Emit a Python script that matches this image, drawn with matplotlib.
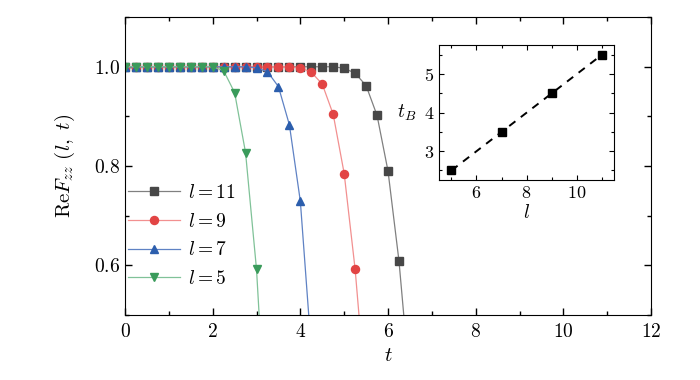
import numpy as np
import matplotlib
matplotlib.use('Agg')
import matplotlib.pyplot as plt
from matplotlib.ticker import MultipleLocator, FuncFormatter

plt.rcParams['font.family'] = 'serif'
plt.rcParams['font.serif'] = ['cmr10', 'DejaVu Serif']
plt.rcParams['mathtext.fontset'] = 'cm'
plt.rcParams['axes.formatter.use_mathtext'] = True

# main panel data: Re F_zz(l, t)
t5 = [0, 0.25, 0.5, 0.75, 1.0, 1.25, 1.5, 1.75, 2.0, 2.25, 2.5, 2.75, 3.0, 3.25]
f5 = [1.0, 1.0, 1.0, 1.0, 1.0, 1.0, 1.0, 1.0, 1.0, 0.992, 0.948, 0.827, 0.592, 0.21]

t7 = [0, 0.25, 0.5, 0.75, 1.0, 1.25, 1.5, 1.75, 2.0, 2.25, 2.5, 2.75, 3.0, 3.25,
      3.5, 3.75, 4.0, 4.25]
f7 = [1.0, 1.0, 1.0, 1.0, 1.0, 1.0, 1.0, 1.0, 1.0, 1.0, 1.0, 1.0, 0.998, 0.99,
      0.96, 0.883, 0.729, 0.43]

t9 = [0, 0.25, 0.5, 0.75, 1.0, 1.25, 1.5, 1.75, 2.0, 2.25, 2.5, 2.75, 3.0, 3.25,
      3.5, 3.75, 4.0, 4.25, 4.5, 4.75, 5.0, 5.25, 5.5]
f9 = [1.0, 1.0, 1.0, 1.0, 1.0, 1.0, 1.0, 1.0, 1.0, 1.0, 1.0, 1.0, 1.0, 1.0,
      1.0, 1.0, 0.998, 0.989, 0.965, 0.904, 0.785, 0.592, 0.33]

t11 = [0, 0.25, 0.5, 0.75, 1.0, 1.25, 1.5, 1.75, 2.0, 2.25, 2.5, 2.75, 3.0, 3.25,
       3.5, 3.75, 4.0, 4.25, 4.5, 4.75, 5.0, 5.25, 5.5, 5.75, 6.0, 6.25, 6.5]
f11 = [1.0, 1.0, 1.0, 1.0, 1.0, 1.0, 1.0, 1.0, 1.0, 1.0, 1.0, 1.0, 1.0, 1.0,
       1.0, 1.0, 1.0, 1.0, 1.0, 1.0, 0.997, 0.987, 0.962, 0.902, 0.79, 0.609, 0.36]

# inset data: t_B vs l
l_vals = [5, 7, 9, 11]
t_B = [2.5, 3.5, 4.5, 5.5]

mfmt = FuncFormatter(lambda v, p: r'$%g$' % v)
mfmt1 = FuncFormatter(lambda v, p: r'$%.1f$' % v)

fig = plt.figure(figsize=(7, 3.8), dpi=100)
ax = fig.add_axes([0.1786, 0.171, 0.7514, 0.784])

series = [
    (t11, f11, 's', '#474747', '#808080', r'$l=11$', 5.2),
    (t9, f9, 'o', '#e24444', '#f29090', r'$l=9$', 5.8),
    (t7, f7, '^', '#2c5ead', '#5f82c4', r'$l=7$', 6.3),
    (t5, f5, 'v', '#3a9b5b', '#80c298', r'$l=5$', 6.3),
]
for tt, ff, mk, mc, lc, lab, ms in series:
    ax.plot(tt, ff, color=lc, lw=0.9, marker=mk, ms=ms, mfc=mc, mec=mc,
            label=lab)

ax.set_xlim(0, 12)
ax.set_ylim(0.5, 1.1)
ax.xaxis.set_major_locator(MultipleLocator(2))
ax.xaxis.set_minor_locator(MultipleLocator(1))
ax.yaxis.set_minor_locator(MultipleLocator(0.1))
ax.set_yticks([0.6, 0.8, 1.0])
ax.xaxis.set_major_formatter(mfmt)
ax.yaxis.set_major_formatter(mfmt1)
ax.tick_params(which='both', direction='in', top=True, right=True, labelsize=14)
ax.tick_params(which='major', length=5, width=1)
ax.tick_params(which='minor', length=3, width=1)
ax.tick_params(axis='x', pad=6)
ax.set_xlabel(r'$t$', fontsize=15, labelpad=4)
ax.set_ylabel(r'$\mathrm{Re}F_{zz}\ (l,\ t)$', fontsize=15, labelpad=12)

ax.legend(loc='upper left', bbox_to_anchor=(0.005, 0.44), frameon=False,
          fontsize=14, handlelength=2.7, handletextpad=0.4, labelspacing=0.55,
          borderaxespad=0, borderpad=0)

# inset
axi = fig.add_axes([0.627, 0.526, 0.2506, 0.355])
axi.plot(l_vals, t_B, color='black', ls=(0, (4, 3.5)), lw=1.4, marker='s',
         ms=6, mfc='black', mec='black')
axi.set_xlim(4.5, 11.5)
axi.set_ylim(2.25, 5.75)
axi.xaxis.set_major_locator(MultipleLocator(2))
axi.xaxis.set_minor_locator(MultipleLocator(1))
axi.yaxis.set_major_locator(MultipleLocator(1))
axi.yaxis.set_minor_locator(MultipleLocator(0.5))
axi.xaxis.set_major_formatter(mfmt)
axi.yaxis.set_major_formatter(mfmt)
axi.tick_params(which='both', direction='in', top=True, right=True, labelsize=13)
axi.tick_params(which='major', length=3.5, width=0.8)
axi.tick_params(which='minor', length=2, width=0.8)
for s in axi.spines.values():
    s.set_linewidth(0.8)
axi.set_xlabel(r'$l$', fontsize=14, labelpad=2)
axi.set_ylabel(r'$t_B$', fontsize=14, rotation=0, va='center', labelpad=12)

fig.savefig('out.png', dpi=100)
